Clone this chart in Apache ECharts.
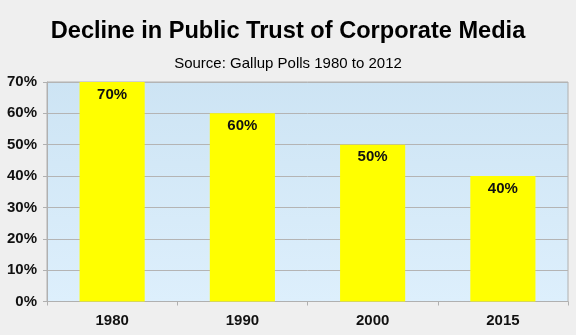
<!DOCTYPE html>
<html>
<head>
<meta charset="utf-8">
<style>
html,body{margin:0;padding:0;background:#efefef;}
#c{width:576px;height:335px;}
</style>
<script src="https://cdn.jsdelivr.net/npm/echarts@6/dist/echarts.min.js"></script>
</head>
<body>
<div id="c"></div>
<script>
const categories = ['1980', '1990', '2000', '2015'];
const trustValues = [70, 60, 50, 40];
const titleText = 'Decline in Public Trust of Corporate Media';
const subtitleText = 'Source: Gallup Polls 1980 to 2012';

const chart = echarts.init(document.getElementById('c'));
chart.setOption({
  backgroundColor: '#efefef',
  animation: false,
  title: {
    text: titleText,
    subtext: subtitleText,
    left: 'center',
    top: 14,
    itemGap: 13,
    textStyle: { fontFamily: 'Liberation Sans', fontWeight: 'bold', fontSize: 23.6, color: '#000' },
    subtextStyle: { fontFamily: 'Liberation Sans', fontSize: 15, color: '#000' }
  },
  grid: {
    left: 47, right: 8, top: 82, bottom: 33.5,
    show: true,
    borderColor: '#b0b0b0',
    borderWidth: 1,
    backgroundColor: {
      type: 'linear', x: 0, y: 0, x2: 0, y2: 1,
      colorStops: [{ offset: 0, color: '#cde4f4' }, { offset: 1, color: '#ddeffc' }]
    }
  },
  xAxis: {
    type: 'category',
    data: categories,
    axisLine: { lineStyle: { color: '#b0b0b0' } },
    axisTick: { show: true, alignWithLabel: false, length: 4, lineStyle: { color: '#b0b0b0' } },
    axisLabel: { fontFamily: 'Liberation Sans', fontWeight: 'bold', fontSize: 15, color: '#111', margin: 12 }
  },
  yAxis: {
    type: 'value',
    min: 0, max: 70, interval: 10,
    axisLine: { show: true, lineStyle: { color: '#b0b0b0' } },
    axisTick: { show: true, length: 4, lineStyle: { color: '#b0b0b0' } },
    splitLine: { lineStyle: { color: '#b4b4b4' } },
    axisLabel: { formatter: '{value}%', fontFamily: 'Liberation Sans', fontWeight: 'bold', fontSize: 15, color: '#111', margin: 10 }
  },
  series: [{
    type: 'bar',
    data: trustValues,
    barWidth: '50%',
    itemStyle: { color: '#ffff00' },
    label: {
      show: true,
      position: 'insideTop',
      distance: 5,
      formatter: '{c}%',
      fontFamily: 'Liberation Sans', fontWeight: 'bold', fontSize: 15, color: '#111'
    }
  }]
});
</script>
</body>
</html>
